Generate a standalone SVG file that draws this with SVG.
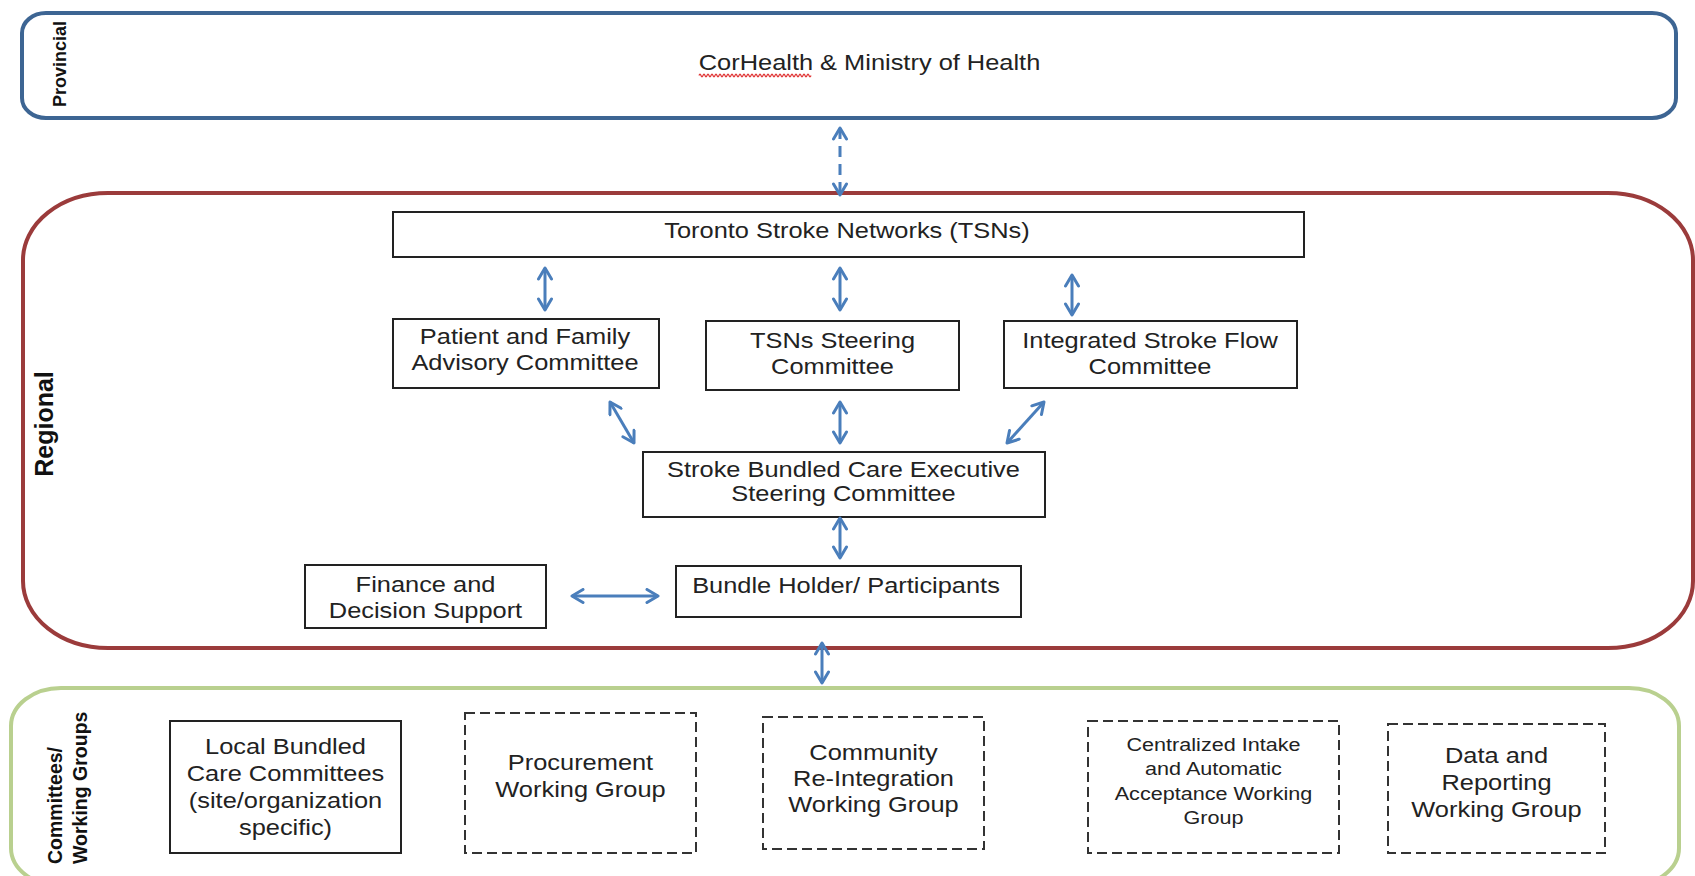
<svg xmlns="http://www.w3.org/2000/svg" width="1695" height="876" viewBox="0 0 1695 876">
<defs>
<style>
.t{font-family:"Liberation Sans",Arial,sans-serif;font-size:22px;fill:#222;text-anchor:middle}
.s{font-size:18.7px}
.lbl{font-family:"Liberation Sans",Arial,sans-serif;font-weight:bold;fill:#111}
.box{fill:#fff;stroke:#222;stroke-width:2}
.dbox{fill:#fff;stroke:#333;stroke-width:2;stroke-dasharray:10 5}
.c{stroke:#4a7ebb;stroke-width:3;fill:none;marker-start:url(#ah);marker-end:url(#ah)}
.dash{stroke-dasharray:11 7}
</style>
<marker id="ah" viewBox="0 0 16 16" markerWidth="16" markerHeight="16" refX="14" refY="8" orient="auto-start-reverse" markerUnits="userSpaceOnUse"><path d="M3,1.5 L14,8 L3,14.5" fill="none" stroke="#4a7ebb" stroke-width="3" stroke-linecap="round" stroke-linejoin="round"/></marker>
</defs>
<rect width="1695" height="876" fill="#fff"/>

<g id="lane-provincial">
<rect x="22" y="13" width="1654" height="105" rx="24" ry="20" fill="#fff" stroke="#3d6593" stroke-width="4"/>
<text class="lbl" font-size="18" text-anchor="middle" transform="translate(66 64) rotate(-90)">Provincial</text>
</g>
<g id="lane-regional">
<rect x="23" y="193" width="1670" height="455" rx="85" ry="67" fill="#fff" stroke="#9b3b3b" stroke-width="4"/>
<text class="lbl" font-size="25" text-anchor="middle" transform="translate(53 424) rotate(-90)">Regional</text>
</g>
<g id="lane-committees">
<rect x="11" y="688" width="1668" height="198" rx="50" ry="38" fill="#fff" stroke="#b9d08f" stroke-width="4"/>
<text class="lbl" font-size="19.5" transform="translate(62 864) rotate(-90)">Committees/</text>
<text class="lbl" font-size="19.5" transform="translate(87 864) rotate(-90)">Working Groups</text>
</g>

<g id="n-corhealth">
<text class="t" transform="translate(869.5 0) scale(1.155 1)" x="0" y="70">CorHealth &amp; Ministry of Health</text>
<path d="M699 75.5q1 -2.6 2 0t2 0t2 0t2 0t2 0t2 0t2 0t2 0t2 0t2 0t2 0t2 0t2 0t2 0t2 0t2 0t2 0t2 0t2 0t2 0t2 0t2 0t2 0t2 0t2 0t2 0t2 0t2 0t2 0t2 0t2 0t2 0t2 0t2 0t2 0t2 0t2 0t2 0t2 0t2 0t2 0t2 0t2 0t2 0t2 0t2 0t2 0t2 0t2 0t2 0t2 0t2 0t2 0t2 0t2 0t2 0" fill="none" stroke="#e03a3a" stroke-width="1.3"/>
</g>

<g id="n-tsn">
<rect class="box" x="393" y="212" width="911" height="45"/>
<text class="t" transform="translate(847 0) scale(1.155 1)" x="0" y="238">Toronto Stroke Networks (TSNs)</text>
</g>
<g id="n-pfac">
<rect class="box" x="393" y="319" width="266" height="69"/>
<text class="t" transform="translate(525 0) scale(1.155 1)"><tspan x="0" y="344">Patient and Family</tspan><tspan x="0" y="370">Advisory Committee</tspan></text>
</g>
<g id="n-tsnsc">
<rect class="box" x="706" y="321" width="253" height="69"/>
<text class="t" transform="translate(832.5 0) scale(1.155 1)"><tspan x="0" y="348">TSNs Steering</tspan><tspan x="0" y="374">Committee</tspan></text>
</g>
<g id="n-isfc">
<rect class="box" x="1004" y="321" width="293" height="67"/>
<text class="t" transform="translate(1150 0) scale(1.155 1)"><tspan x="0" y="348">Integrated Stroke Flow</tspan><tspan x="0" y="374">Committee</tspan></text>
</g>
<g id="n-exec">
<rect class="box" x="643" y="452" width="402" height="65"/>
<text class="t" transform="translate(843.5 0) scale(1.155 1)"><tspan x="0" y="477">Stroke Bundled Care Executive</tspan><tspan x="0" y="501">Steering Committee</tspan></text>
</g>
<g id="n-bundle">
<rect class="box" x="676" y="566" width="345" height="51"/>
<text class="t" transform="translate(846 0) scale(1.155 1)" x="0" y="593">Bundle Holder/ Participants</text>
</g>
<g id="n-finance">
<rect class="box" x="305" y="565" width="241" height="63"/>
<text class="t" transform="translate(425.5 0) scale(1.155 1)"><tspan x="0" y="592">Finance and</tspan><tspan x="0" y="618">Decision Support</tspan></text>
</g>

<g id="n-local">
<rect class="box" x="170" y="721" width="231" height="132"/>
<text class="t" transform="translate(285.5 0) scale(1.155 1)"><tspan x="0" y="754">Local Bundled</tspan><tspan x="0" y="781">Care Committees</tspan><tspan x="0" y="808">(site/organization</tspan><tspan x="0" y="835">specific)</tspan></text>
</g>
<g id="n-procurement">
<rect class="dbox" x="465" y="713" width="231" height="140"/>
<text class="t" transform="translate(580.5 0) scale(1.155 1)"><tspan x="0" y="770">Procurement</tspan><tspan x="0" y="797">Working Group</tspan></text>
</g>
<g id="n-community">
<rect class="dbox" x="763" y="717" width="221" height="132"/>
<text class="t" transform="translate(873.5 0) scale(1.155 1)"><tspan x="0" y="760">Community</tspan><tspan x="0" y="786">Re-Integration</tspan><tspan x="0" y="812">Working Group</tspan></text>
</g>
<g id="n-intake">
<rect class="dbox" x="1088" y="721" width="251" height="132"/>
<text class="t s" transform="translate(1213.5 0) scale(1.155 1)"><tspan x="0" y="751">Centralized Intake</tspan><tspan x="0" y="775.5">and Automatic</tspan><tspan x="0" y="800">Acceptance Working</tspan><tspan x="0" y="824.5">Group</tspan></text>
</g>
<g id="n-data">
<rect class="dbox" x="1388" y="724" width="217" height="129"/>
<text class="t" transform="translate(1496.5 0) scale(1.155 1)"><tspan x="0" y="763">Data and</tspan><tspan x="0" y="790">Reporting</tspan><tspan x="0" y="817">Working Group</tspan></text>
</g>

<g id="connectors">
<path class="c dash" d="M840 128V195"/>
<path class="c" d="M545 268V310"/>
<path class="c" d="M840 268V310"/>
<path class="c" d="M1072 275V315"/>
<path class="c" d="M610 402L634 443"/>
<path class="c" d="M840 402V443"/>
<path class="c" d="M1044 402L1007 443"/>
<path class="c" d="M840 518V558"/>
<path class="c" d="M572 596H658"/>
<path class="c" d="M822 643V683"/>
</g>
</svg>
